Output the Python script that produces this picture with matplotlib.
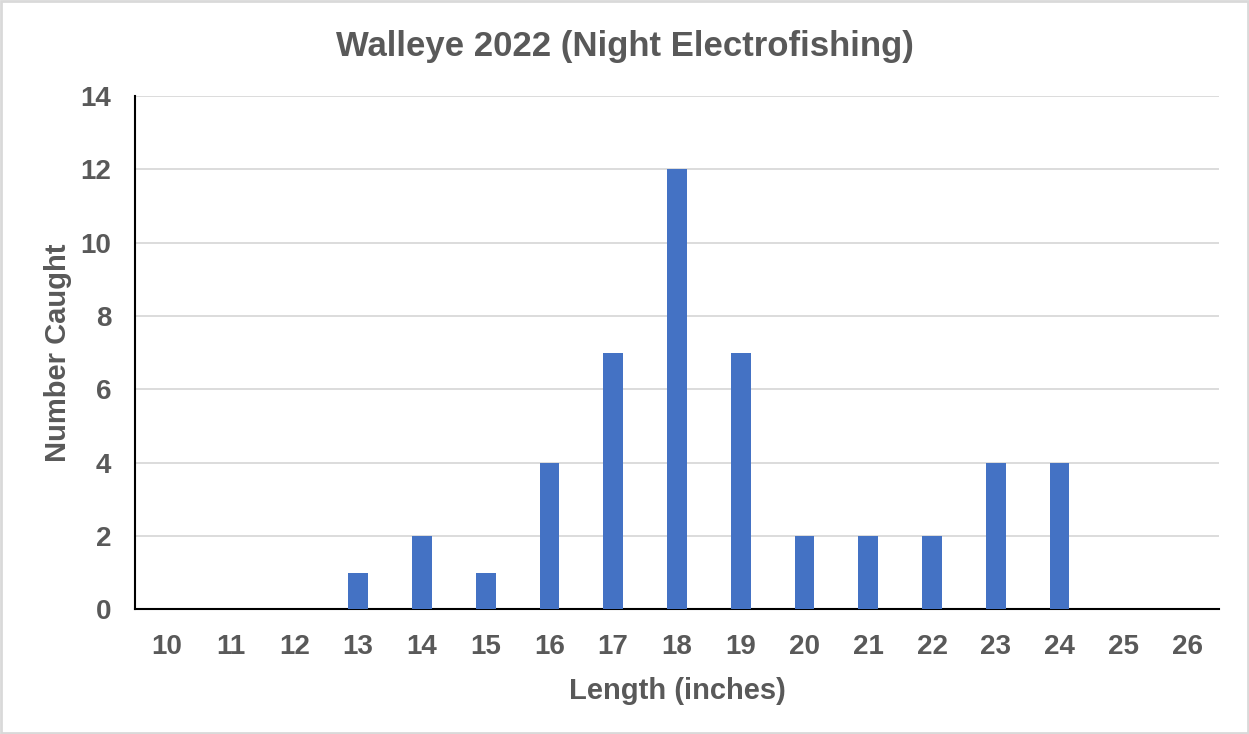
import matplotlib.pyplot as plt
from matplotlib.patches import Rectangle

lengths = [str(n) for n in range(10, 27)]
counts = [0, 0, 0, 1, 2, 1, 4, 7, 12, 7, 2, 2, 2, 4, 4, 0, 0]
y_ticks = [0, 2, 4, 6, 8, 10, 12, 14]

plt.rcParams['font.family'] = ['Liberation Sans', 'DejaVu Sans']
plt.rcParams['font.weight'] = 'bold'
grey = '#595959'

fig = plt.figure(figsize=(12.49, 7.34), dpi=100)
ax = fig.add_axes([0.108, 0.170, 0.868, 0.699])

xs = list(range(len(lengths)))
ax.bar(xs, counts, width=0.31, color='#4472C4', zorder=3)

ax.set_xlim(-0.5, len(lengths) - 0.5)
ax.set_ylim(0, 14)
ax.set_xticks(xs)
ax.set_xticklabels(lengths)
ax.set_yticks(y_ticks)
ax.tick_params(length=0, labelsize=20, labelcolor=grey)
ax.tick_params(axis='x', pad=18)
ax.tick_params(axis='y', pad=17)
ax.grid(axis='y', color='#d9d9d9', linewidth=1.3, zorder=0)

for s in ['top', 'right']:
    ax.spines[s].set_visible(False)
for s in ['left', 'bottom']:
    ax.spines[s].set_color('black')
    ax.spines[s].set_linewidth(1.5)

ax.set_xlabel('Length (inches)', fontsize=21, color=grey, fontweight='bold', labelpad=12)
ax.set_ylabel('Number Caught', fontsize=21, color=grey, fontweight='bold', labelpad=6)
fig.text(0.5, 0.936, 'Walleye 2022 (Night Electrofishing)', ha='center', va='center',
         fontsize=25, color=grey, fontweight='bold')

fig.patches.append(Rectangle((0.001, 0.001), 0.998, 0.997, transform=fig.transFigure,
                             fill=False, edgecolor='#d9d9d9', linewidth=2))

fig.savefig('out.png', dpi=100)
